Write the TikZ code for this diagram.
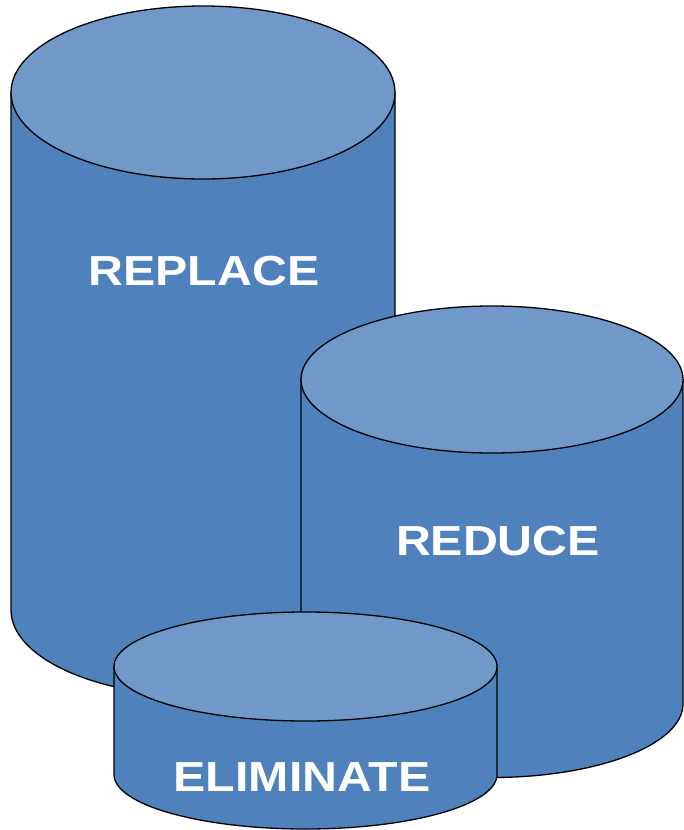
\documentclass[tikz,border=0pt]{standalone}
\usepackage{fontspec}
\setmainfont{Liberation Sans}
\usepackage{xcolor}
\usetikzlibrary{positioning}

\definecolor{bodyblue}{HTML}{4F81BD}
\definecolor{lidblue}{HTML}{7099CA}

\tikzset{
    body/.style={fill=bodyblue, draw=black, line width=1.3pt},
    lid/.style={fill=lidblue, draw=black, line width=1.3pt},
    label/.style={text=white, font=\fontsize{42}{50}\selectfont\bfseries, xscale=1.15}
}

\begin{document}
\begin{tikzpicture}[x=1pt, y=-1pt]
    \useasboundingbox (0,0) rectangle (683,830);

    % Cylinders: centre x / radius x / top y / radius y / bottom y
    \foreach \cx/\rx/\ty/\ry/\by in {203/192/92.5/86.5/610, 492/191/379.5/73.5/704, 305.5/191.5/666.5/54.5/774.5} {
        \filldraw[body] (\cx-\rx,\ty) -- (\cx-\rx,\by)
            arc[start angle=180, end angle=0, x radius=\rx, y radius=\ry]
            -- (\cx+\rx,\ty) -- cycle;
        \filldraw[lid] (\cx,\ty) ellipse [x radius=\rx, y radius=\ry];
    }

    % Labels
    \node[label] (replace) at (204,271) {REPLACE};
    \node[label] (reduce) at (498,541) {REDUCE};
    \node[label] (eliminate) at (302,777) {ELIMINATE};
\end{tikzpicture}
\end{document}
